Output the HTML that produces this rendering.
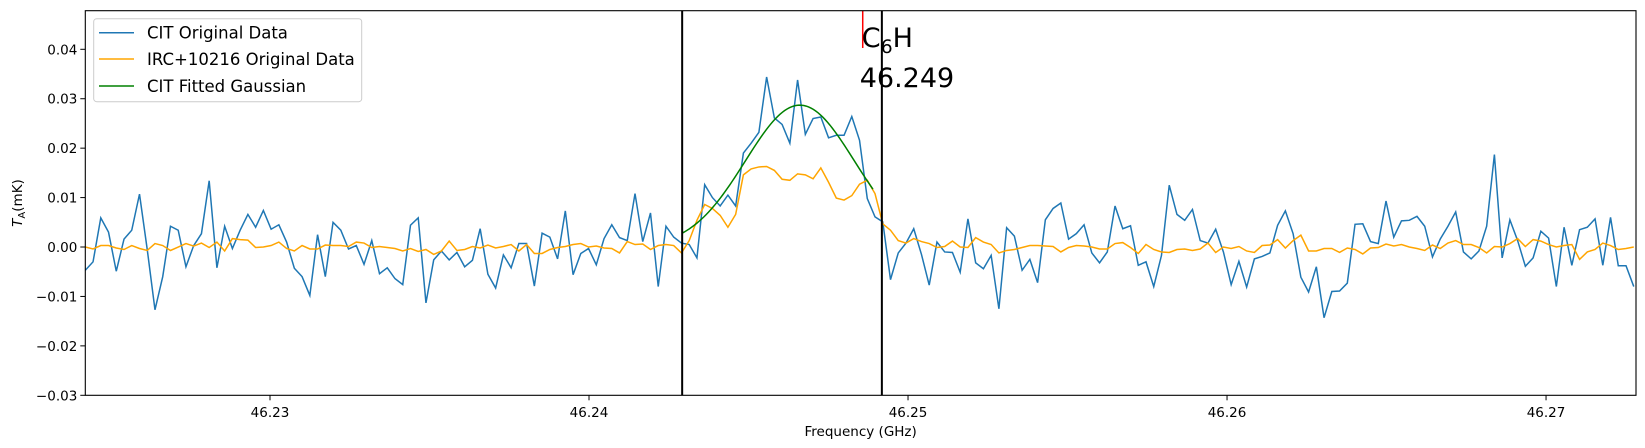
<!DOCTYPE html>
<html><head><meta charset="utf-8"><style>
html,body{margin:0;padding:0;background:#fff;}
svg{display:block;font-family:"DejaVu Sans","Liberation Sans",sans-serif;}
</style></head><body>
<svg id="chart" width="1645" height="448" viewBox="0 0 1645 448" xmlns="http://www.w3.org/2000/svg">
<g id="grid"></g>
</svg>
<script>
// ---- data ----
const freqStart = 46.22421;
const freqStep = 0.0002427;
const citValues = [-0.0047,-0.003,0.0059,0.003,-0.0049,0.0016,0.0034,0.0107,-0.0005,-0.0127,-0.006,0.0042,0.0034,-0.004,0.0003,0.0027,0.0134,-0.0042,0.0042,-0.0003,0.0034,0.0066,0.004,0.0074,0.0036,0.0045,0.001,-0.0043,-0.006,-0.0098,0.0025,-0.006,0.005,0.0034,-0.0004,0.0003,-0.0035,0.0013,-0.0054,-0.0042,-0.0064,-0.0076,
0.0044,0.0059,-0.0113,-0.0026,-0.0008,-0.0026,-0.0011,-0.004,-0.0027,0.0037,-0.0055,-0.0083,-0.0016,-0.0042,0.0007,0.0007,-0.0079,0.0028,0.002,-0.0024,0.0073,-0.0056,-0.0013,-0.0003,-0.0036,0.0017,0.0045,0.0019,0.0013,0.0108,0.0011,0.0069,-0.008,
0.0042,0.002,0.0008,0.0005,-0.0022,0.0126,0.01,0.0083,0.0105,0.0083,0.019,0.021,0.0232,0.0344,0.0261,0.0248,0.021,0.0338,0.0228,0.026,0.0263,0.0221,0.0226,0.0226,0.0264,0.0216,
0.0098,0.0061,0.0051,-0.0066,-0.0012,0.0008,0.0037,-0.0015,-0.0077,0.001,-0.001,-0.0011,-0.0051,0.0057,-0.0032,-0.0044,-0.0017,-0.0125,0.0039,0.0022,-0.0047,-0.0025,-0.0072,0.0055,0.0078,0.0089,0.0016,0.0027,0.0045,-0.0012,-0.0032,-0.001,0.0083,0.0037,0.0043,-0.0037,-0.003,-0.008,-0.0017,0.0125,0.0066,0.0054,0.0076,0.0013,
0.0008,0.0036,-0.001,-0.0076,-0.0029,-0.0081,-0.0024,-0.0019,-0.0012,0.0044,0.0073,0.0027,-0.0061,-0.0091,-0.004,-0.0143,-0.009,-0.0089,-0.0073,0.0046,0.0047,0.0011,0.0007,0.0093,0.002,0.0053,0.0054,0.0062,0.0042,-0.002,0.0016,0.0042,0.0071,-0.001,-0.0024,-0.0008,0.0042,0.0187,-0.0022,0.0055,0.0013,-0.0039,-0.0022,0.0032,0.0018,-0.008,
0.004,-0.0037,0.0035,0.004,0.0057,-0.0037,0.006,-0.0038,-0.0038,-0.008];
const ircValues = [0,-0.0004,0.0003,0.0003,-0.0002,-0.0005,0.0003,-0.0003,-0.0007,0.0007,0.0003,-0.0007,0,0.0007,0.0002,0.0008,-0.0001,0.001,-0.0008,0.0017,0.0015,0.0014,-0.0001,0,0.0003,0.001,-0.0003,-0.0008,0.0003,-0.0004,-0.0004,0.0004,
0.0003,0.0003,0.0001,0.001,0.0008,-0.0001,0.0001,-0.0001,-0.0003,-0.0008,-0.0003,-0.0009,-0.0005,-0.0015,-0.0008,0.0012,-0.0007,-0.0005,0.0001,-0.0002,0.0004,-0.0002,0.0001,0.0005,-0.0008,0.0005,-0.0013,-0.0013,-0.0005,-0.0001,0.0001,0.0005,0.0007,0,0.0002,-0.0002,-0.0003,-0.0012,0.0011,0.0005,0.0006,-0.0005,0.0003,
0.0005,0.0003,-0.0012,0.0013,0.0054,0.0086,0.0078,0.0064,0.004,0.0066,0.0146,0.0158,0.0162,0.0163,0.0155,0.0137,0.0135,0.0148,0.0146,0.0138,0.016,0.0131,0.0099,0.0095,0.0104,0.0127,
0.0135,0.0108,0.0047,0.0034,0.0013,0.0008,0.0017,0.0011,0.0007,-0.0001,0.0001,0.0012,0,-0.0001,0.0019,0.001,0.0005,-0.0012,-0.0007,-0.0005,-0.0001,0.0003,0.0003,0.0002,0.0001,-0.001,-0.0001,0.0003,0.0002,0,-0.0004,-0.0004,0.0007,0.0009,-0.0001,-0.0013,0.0005,-0.0005,-0.001,-0.0011,-0.0005,-0.0004,-0.0007,-0.0004,
0.0008,-0.0011,0,-0.0003,0.0001,-0.0008,-0.0011,0.0003,0.0004,0.0015,-0.0002,0.0013,0.0024,-0.0008,-0.0008,-0.0003,-0.0003,-0.0011,-0.0002,-0.0005,-0.0014,-0.0002,-0.0001,0.0006,0.0002,0.0005,0,-0.0003,-0.0007,0.0004,-0.0003,0.0008,0.0013,0.0005,0.0005,-0.0001,-0.0012,0.0001,0,0.0007,0.0017,0.0001,0.0015,0.0012,0.0005,0,
0.0003,0.0005,-0.0025,-0.001,-0.0005,0.0008,0.0003,-0.0005,-0.0003,0];
const gaussAmp = 0.0287, gaussCenter = 46.24661, gaussSigma = 0.00171;
const gaussRange = [46.24292, 46.2489];
const vLines = [46.24292, 46.24918];
const lineFreq = 46.24858;
const xTicks = [46.23, 46.24, 46.25, 46.26, 46.27];
const yTicks = [-0.03, -0.02, -0.01, 0.00, 0.01, 0.02, 0.03, 0.04];
const xDomain = [46.22421, 46.27282], yDomain = [-0.03, 0.04];

// ---- layout ----
const L=85.3, R=1636, T=10.7, B=395.3;
const yTop0 = 49.3;
const xs = v => L + (v - xDomain[0]) / (xDomain[1]-xDomain[0]) * (R-L);
const ys = v => B - (v - yDomain[0]) / (0.07) * (B - yTop0) * (0.07/0.07);
const NS="http://www.w3.org/2000/svg";
const svg=document.getElementById('chart');
function mk(tag, attrs, parent){const e=document.createElementNS(NS,tag);for(const k in attrs)e.setAttribute(k,attrs[k]);(parent||svg).appendChild(e);return e;}
function yS(v){return B - (v - (-0.03)) / 0.07 * (B - yTop0);}

// clip
const defs=mk('defs',{});const cp=mk('clipPath',{id:'clip'},defs);mk('rect',{x:L,y:T,width:R-L,height:B-T},cp);

function pathFrom(vals){return vals.map((v,i)=>(i?'L':'M')+xs(freqStart+i*freqStep).toFixed(2)+','+yS(v).toFixed(2)).join('');}

const citLine=mk('path',{d:pathFrom(citValues),fill:'none',stroke:'#1f77b4','stroke-width':1.5,'clip-path':'url(#clip)'});


const ircLine=mk('path',{d:pathFrom(ircValues),fill:'none',stroke:'#ffa500','stroke-width':1.5,'clip-path':'url(#clip)'});


let gd='';const n=80;
for(let k=0;k<=n;k++){const f=gaussRange[0]+(gaussRange[1]-gaussRange[0])*k/n;const v=gaussAmp*Math.exp(-Math.pow(f-gaussCenter,2)/(2*gaussSigma*gaussSigma));gd+=(k?'L':'M')+xs(f).toFixed(2)+','+yS(v).toFixed(2);}
const gLine=mk('path',{d:gd,fill:'none',stroke:'#008000','stroke-width':1.5});



vLines.forEach((f,i)=>{const l=mk('line',{x1:xs(f),x2:xs(f),y1:T,y2:B,stroke:'#000','stroke-width':2});

});
const rl=mk('line',{x1:xs(lineFreq),x2:xs(lineFreq),y1:T,y2:48,stroke:'#ff0000','stroke-width':1.5});


const t1=mk('text',{x:xs(lineFreq)-1,y:47,'font-size':27});


t1.innerHTML='C<tspan font-size="19" dy="6">6</tspan><tspan dy="-6">H</tspan>';
const t2=mk('text',{x:xs(lineFreq)-3,y:87,'font-size':27});


t2.textContent='46.249';

// axes frame
const fr=mk('rect',{x:L,y:T,width:R-L,height:B-T,fill:'none',stroke:'#000','stroke-width':1.1});


xTicks.forEach(t=>{const x=xs(t);mk('line',{x1:x,x2:x,y1:B,y2:B+5,stroke:'#000','stroke-width':1});
const tx=mk('text',{x:x,y:417,'font-size':13.5,'text-anchor':'middle'});


tx.textContent=t.toFixed(2);});
yTicks.forEach(t=>{const y=yS(t);mk('line',{x1:L-5,x2:L,y1:y,y2:y,stroke:'#000','stroke-width':1});
const tx=mk('text',{x:L-8,y:y+5,'font-size':13.5,'text-anchor':'end'});


tx.textContent=(t<0?'\u2212':'')+Math.abs(t).toFixed(2);});
const xl=mk('text',{x:(L+R)/2,y:436,'font-size':13.5,'text-anchor':'middle'});


xl.textContent='Frequency (GHz)';
const yl=mk('text',{x:0,y:0,'font-size':13.5,'text-anchor':'middle',transform:'translate(22,203) rotate(-90)'});


yl.innerHTML='<tspan font-style="italic">T</tspan><tspan font-size="10" dy="3">A</tspan><tspan dy="-3">(mK)</tspan>';

// legend
const lg=mk('g',{});


mk('rect',{x:93.7,y:18.7,width:268,height:83,rx:3,fill:'#fff','fill-opacity':0.8,stroke:'#ccc'},lg);
[['CIT Original Data','#1f77b4',32.7],['IRC+10216 Original Data','#ffa500',59],['CIT Fitted Gaussian','#008000',86]].forEach(([lab,c,y])=>{
const e=mk('g',{},lg);


mk('line',{x1:99,x2:134,y1:y,y2:y,stroke:c,'stroke-width':1.5},e);
const t=mk('text',{x:147,y:y+6,'font-size':16.5},e);t.textContent=lab;});
</script>
</body></html>
